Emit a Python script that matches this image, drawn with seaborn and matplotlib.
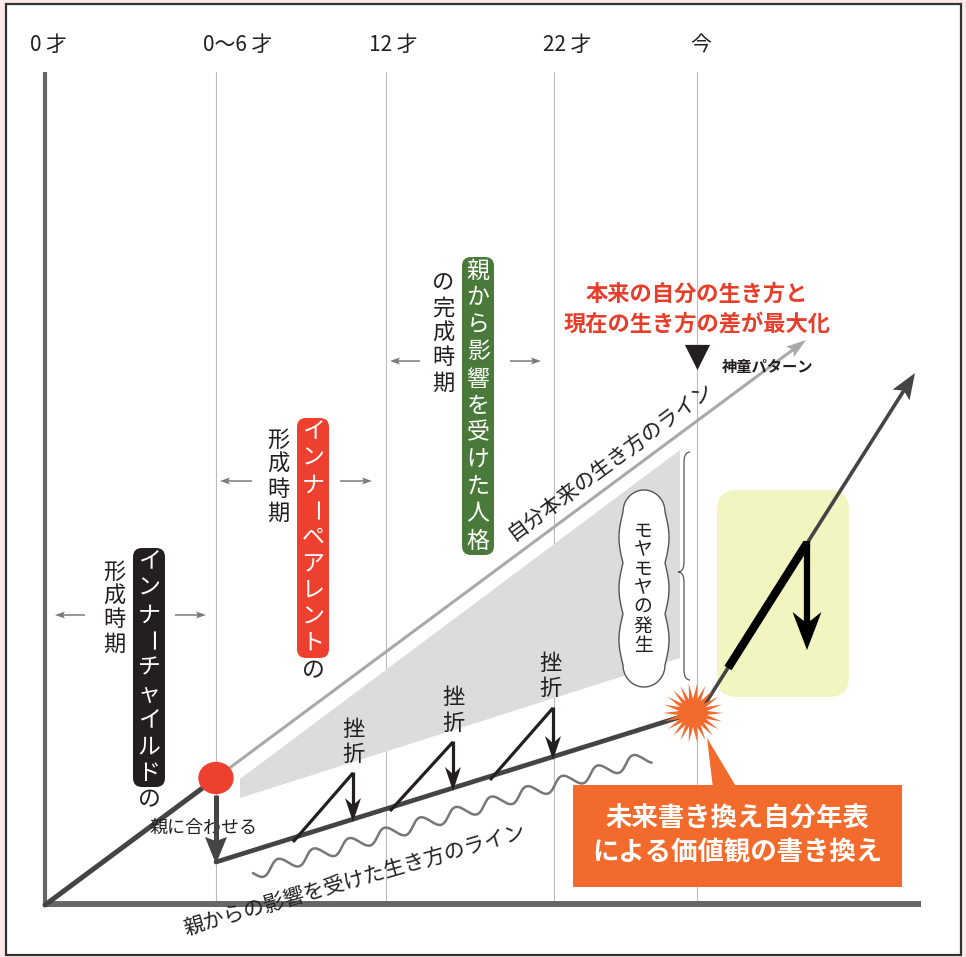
import numpy as np
import matplotlib
matplotlib.use("Agg")
import matplotlib.pyplot as plt
import seaborn as sns
from matplotlib.patches import FancyBboxPatch, Polygon, Rectangle, Ellipse, PathPatch
from matplotlib.path import Path

sns.set_theme(style="white")
plt.rcParams["font.family"] = ["Noto Sans CJK JP", "DejaVu Sans"]

# ---- diagram data (canvas units, y grows downwards) ----
age_labels = ["0 才", "0〜6 才", "12 才", "22 才", "今"]
age_label_x = [48, 238, 393, 567, 701]
period_x = [216, 386, 554, 697]

origin_xy = [45, 905]
birth_xy = [216, 778]

true_line_tip = [806, 340]
parent_line_x = [216, 693]
parent_line_y = [862, 713]

setback_start_x = [293, 390, 490]
setback_start_y = [842, 811, 780]
setback_peak_x = [353, 453, 553]
setback_peak_y = [773, 742, 708]
setback_end_y = [822, 791, 760]
setback_label_x = [353, 453, 550]
setback_label_y = [729, 698, 663]

burst_xy = [693, 713]
rewrite_start = [700, 712]
rewrite_tip = [915, 373]
bold_seg_x = [728, 807]
bold_seg_y = [668, 543]
drop_tip_y = 650

gap_poly_x = [240, 680, 680, 240]
gap_poly_y = [779, 450, 658, 798]

child_box = "インナーチャイルド"
parent_box = "インナーペアレント"
persona_box = "親から影響を受けた人格"

INK = "#231f20"
GREY = "#7a7a7a"


def vtext(ax, x, y0, s, step, **kw):
    # vertical writing: one glyph per row, long-vowel mark turned upright
    for i, ch in enumerate(s):
        rot = -90 if ch == "ー" else 0
        ax.text(x, y0 + i * step, ch, rotation=rot, ha="center", va="center", **kw)


def stealth(ax, tail, tip, lw, color, head_len, head_w, notch=0.25, z=5):
    tail = np.asarray(tail, float)
    tip = np.asarray(tip, float)
    d = tip - tail
    d /= np.linalg.norm(d)
    n = np.array([-d[1], d[0]])
    base = tip - d * head_len
    notch_pt = tip - d * head_len * (1 - notch)
    ax.plot([tail[0], notch_pt[0]], [tail[1], notch_pt[1]], color=color, lw=lw,
            solid_capstyle="butt", zorder=z)
    ax.add_patch(Polygon([tip, base + n * head_w / 2, notch_pt, base - n * head_w / 2],
                         closed=True, color=color, lw=0, zorder=z))


fig = plt.figure(figsize=(9.66, 9.57), dpi=100)
fig.patch.set_facecolor("#fce9ea")
ax = fig.add_axes([0, 0, 1, 1])
ax.set_xlim(0, 966)
ax.set_ylim(957, 0)
ax.axis("off")

# frame
ax.add_patch(Rectangle((6, 4), 955, 951, facecolor="white", edgecolor="#333333", lw=1.6, zorder=0))

# period grid lines and top labels
for x in period_x:
    ax.plot([x, x], [72, 904], color="#bbbbbb", lw=0.8, zorder=1)
for lab, x in zip(age_labels, age_label_x):
    ax.text(x, 45, lab, ha="center", va="center", fontsize=15, color=INK)

# shaded gap area and highlight box
ax.add_patch(Polygon(np.column_stack([gap_poly_x, gap_poly_y]), closed=True,
                     color="#dcdcdd", lw=0, zorder=1))
ax.add_patch(FancyBboxPatch((737, 510), 92, 167, boxstyle="round,pad=20,rounding_size=20",
                            facecolor="#f3f5c1", edgecolor="none", zorder=1))

# axes
ax.plot([45, 45], [72, 906], color="#666666", lw=3, solid_capstyle="butt", zorder=2)
ax.plot([43, 921], [904, 904], color="#666666", lw=4.3, solid_capstyle="butt", zorder=2)

# line from birth
sns.lineplot(x=[origin_xy[0], birth_xy[0]], y=[origin_xy[1], birth_xy[1]], sort=False,
             estimator=None, color="#444444", lw=3.6, ax=ax, zorder=3)
stealth(ax, birth_xy, true_line_tip, 2.2, "#a9a9a9", 20, 13, notch=0.2, z=3)
ax.text(610, 461, "自分本来の生き方のライン", rotation=36.6, rotation_mode="anchor",
        ha="center", va="center", fontsize=15, color=INK)

# parents' influence line
stealth(ax, [birth_xy[0], 795], [parent_line_x[0], parent_line_y[0] + 2], 3.6, "#444444", 27, 22,
        notch=0.15, z=4)
sns.lineplot(x=parent_line_x, y=parent_line_y, sort=False, estimator=None,
             color="#444444", lw=3.4, ax=ax, zorder=3)
ax.text(203, 828, "親に合わせる", ha="center", va="center", fontsize=13, color=INK)

# wavy line beneath
wx0, wy0, wx1, wy1 = 253, 873, 650, 757
s = np.linspace(0, 1, 600)
L = np.hypot(wx1 - wx0, wy1 - wy0)
ux, uy = (wx1 - wx0) / L, (wy1 - wy0) / L
off = 6.5 * np.sin(2 * np.pi * s * L / 37)
wave_x = wx0 + ux * s * L - uy * off
wave_y = wy0 + uy * s * L + ux * off
sns.lineplot(x=wave_x, y=wave_y, sort=False, estimator=None, color="#777777", lw=1.8, ax=ax, zorder=2)
ax.text(355, 880, "親からの影響を受けた生き方のライン", rotation=16, rotation_mode="anchor",
        ha="center", va="center", fontsize=15, color=INK)

# setbacks
for sx, sy, px, py, ey, lx, ly in zip(setback_start_x, setback_start_y, setback_peak_x,
                                      setback_peak_y, setback_end_y, setback_label_x, setback_label_y):
    ax.plot([sx, px], [sy, py], color=INK, lw=2.3, solid_capstyle="butt", zorder=4)
    stealth(ax, [px, py - 1], [px, ey], 2.3, INK, 24, 16, notch=0.3, z=4)
    vtext(ax, lx, ly, "挫折", 25, fontsize=16, color=INK)

# burst
ang = np.linspace(0, 2 * np.pi, 44, endpoint=False)
rad = np.where(np.arange(44) % 2 == 0, 30, 14)
ax.add_patch(Polygon(np.column_stack([burst_xy[0] + rad * np.cos(ang), burst_xy[1] + rad * np.sin(ang)]),
                     closed=True, color="#f26b2d", lw=0, zorder=6))

# rewrite line
stealth(ax, rewrite_start, rewrite_tip, 2.6, "#444444", 26, 20, notch=0.2, z=5)
ax.plot(bold_seg_x, bold_seg_y, color="black", lw=6, solid_capstyle="butt", zorder=6)
stealth(ax, [bold_seg_x[1], bold_seg_y[1] - 2], [bold_seg_x[1], drop_tip_y], 4.5, "black", 38, 29,
        notch=0.3, z=6)

# birth dot
ax.add_patch(Ellipse(birth_xy, 34, 31, color="#ee402e", zorder=7))

# ---- labelled periods ----
boxes = [
    (child_box, "#231f20", 133, 548, 239, 149, "形成時期", 114, 572, 24),
    (parent_box, "#ee402e", 297, 418, 240, 313, "形成時期", 278, 440, 24.5),
]
for text, col, bx, by, bh, cx, side, sx, sy, sstep in boxes:
    ax.add_patch(FancyBboxPatch((bx + 6, by + 6), 20, bh - 12, boxstyle="round,pad=6,rounding_size=9",
                                facecolor=col, edgecolor="none", zorder=3))
    vtext(ax, cx, by + 14, text, 26.4, fontsize=16.5, color="white", zorder=4)
    vtext(ax, cx, by + bh + 13, "の", 25, fontsize=16.5, color=INK)
    vtext(ax, sx, sy, side, sstep, fontsize=16, color=INK)

ax.add_patch(FancyBboxPatch((468, 263), 20, 286, boxstyle="round,pad=6,rounding_size=9",
                            facecolor="#4a7a3a", edgecolor="none", zorder=3))
vtext(ax, 478, 271, persona_box, 27, fontsize=16.5, color="white", zorder=4)
vtext(ax, 443, 283, "の完成時期", 25, fontsize=16, color=INK)

# period arrows
arrow_rows = [(615, 85, 55, 175, 206), (481, 252, 220, 340, 372), (361, 420, 390, 510, 541)]
for y, lt, lh, rt, rh in arrow_rows:
    stealth(ax, [lt, y], [lh, y], 1.1, GREY, 10, 7, notch=0.2, z=3)
    stealth(ax, [rt, y], [rh, y], 1.1, GREY, 10, 7, notch=0.2, z=3)

# moyamoya cloud
yy = np.linspace(512, 665, 200)
bump = 4 * np.abs(np.sin(np.pi * 3 * (yy - 512) / 153))
right = np.column_stack([644 + 21 + bump, yy])
left = np.column_stack([644 - 21 - bump, yy])[::-1]
tb = np.linspace(0, np.pi, 40)
bottom = np.column_stack([644 + 21 * np.cos(tb), 665 + 22 * np.sin(tb)])
top = np.column_stack([644 - 21 * np.cos(tb), 512 - 22 * np.sin(tb)])
cloud = np.vstack([right, bottom, left, top])
ax.add_patch(Polygon(cloud, closed=True, facecolor="white", edgecolor="#555555", lw=1, zorder=3))
vtext(ax, 643, 531, "モヤモヤの発生", 19, fontsize=13.5, color=INK, zorder=4)

# brace
verts = [(690, 452), (684, 452), (684, 462), (684, 562), (684, 572), (678, 572),
         (684, 572), (684, 582), (684, 670), (684, 680), (690, 680)]
codes = [Path.MOVETO, Path.CURVE3, Path.CURVE3, Path.LINETO, Path.CURVE3, Path.CURVE3,
         Path.CURVE3, Path.CURVE3, Path.LINETO, Path.CURVE3, Path.CURVE3]
ax.add_patch(PathPatch(Path(verts, codes), facecolor="none", edgecolor="#555555", lw=0.9, zorder=3))

# annotations near "今"
ax.text(697, 309, "本来の自分の生き方と\n現在の生き方の差が最大化", ha="center", va="center",
        fontsize=16, fontweight="bold", color="#e63e2b", linespacing=1.35)
ax.scatter([697], [357], marker="v", s=330, color=INK, zorder=5, linewidths=0)
ax.text(722, 367, "神童パターン", ha="left", va="center", fontsize=11, fontweight="bold", color=INK)

# callout
ax.add_patch(Polygon([(713, 788), (737, 788), (707, 738)], closed=True, color="#f26b2d", lw=0, zorder=6))
ax.add_patch(Rectangle((573, 785), 329, 102, color="#f26b2d", lw=0, zorder=6))
ax.text(737, 836, "未来書き換え自分年表\nによる価値観の書き換え", ha="center", va="center",
        fontsize=19, fontweight="bold", color="white", linespacing=1.3, zorder=7)

fig.savefig("out.png", dpi=100, facecolor=fig.get_facecolor())
